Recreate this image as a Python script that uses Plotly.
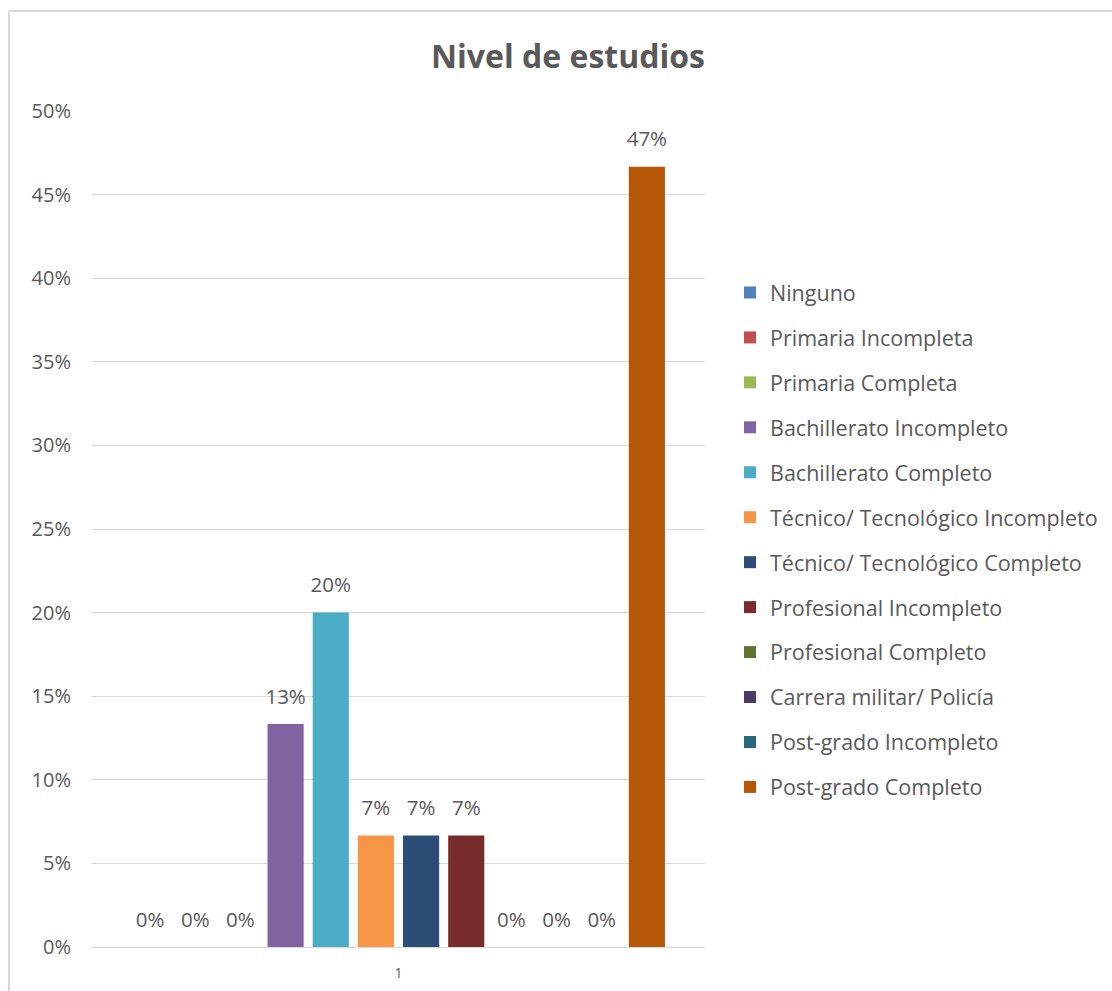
import plotly.graph_objects as go

categories = ["1"]
series_names = [
    "Ninguno", "Primaria Incompleta", "Primaria Completa", "Bachillerato Incompleto",
    "Bachillerato Completo", "Técnico/ Tecnológico Incompleto", "Técnico/ Tecnológico Completo",
    "Profesional Incompleto", "Profesional Completo", "Carrera militar/ Policía",
    "Post-grado Incompleto", "Post-grado Completo",
]
series_values = [0.0, 0.0, 0.0, 0.1333, 0.2, 0.0667, 0.0667, 0.0667, 0.0, 0.0, 0.0, 0.4667]
series_colors = [
    "#4F81BD", "#C0504D", "#9BBB59", "#8064A2", "#4BACC6", "#F79646",
    "#2C4D75", "#772C2A", "#5F7530", "#4D3B62", "#276A7C", "#B65708",
]
y_tick_vals = [0, 0.05, 0.10, 0.15, 0.20, 0.25, 0.30, 0.35, 0.40, 0.45, 0.50]

FONT = "Open Sans, Lato, sans-serif"
GREY = "#595959"
LABEL_PAD = 0.0068  # visual gap between bar end and its data label (axis units)

W, H = 1112, 991
L, R, T, B = 92, 407, 111, 44
pw, ph = W - L - R, H - T - B

def px_x(x):
    return (x - L) / pw

def px_y(y):
    return (H - B - y) / ph

fig = go.Figure()
for i, (name, val, col) in enumerate(zip(series_names, series_values, series_colors)):
    fig.add_trace(go.Bar(
        x=categories, y=[val], name=name, legendgroup=name, offsetgroup=str(i),
        marker=dict(color=col, line=dict(width=0)),
    ))
    # transparent carrier for the data label, sitting just above the bar
    fig.add_trace(go.Bar(
        x=categories, y=[LABEL_PAD], base=[val], name=name, legendgroup=name,
        offsetgroup=str(i), showlegend=False, hoverinfo="skip",
        marker=dict(color="rgba(0,0,0,0)", line=dict(width=0)),
        customdata=[val], texttemplate="%{customdata:.0%}", textposition="outside",
        textfont=dict(family=FONT, size=20.5, color=GREY),
        constraintext="none", cliponaxis=False,
    ))

fig.update_layout(
    width=W, height=H,
    margin=dict(l=L, r=R, t=T, b=B, autoexpand=False),
    paper_bgcolor="white", plot_bgcolor="white",
    barmode="group", bargap=0.116, bargroupgap=0.2,
    title=dict(text="<b>Nivel de estudios</b>", x=568 / W, xanchor="center",
               y=1 - 57 / H, yanchor="middle",
               font=dict(family=FONT, size=32, color=GREY)),
    font=dict(family=FONT, color=GREY),
    showlegend=True,
    legend=dict(x=px_x(730), xanchor="left", y=px_y(540), yanchor="middle",
                font=dict(family=FONT, size=21.5, color=GREY),
                tracegroupgap=14, traceorder="grouped",
                bgcolor="rgba(0,0,0,0)"),
    xaxis=dict(showgrid=False, showline=False, zeroline=False, automargin=False,
               tickfont=dict(family=FONT, size=14, color=GREY), ticks="",
               ticklabelstandoff=16),
    yaxis=dict(range=[0, 0.5], tickvals=y_tick_vals, tickformat=".0%",
               showgrid=True, gridcolor="#D9D9D9", gridwidth=1,
               zeroline=True, zerolinecolor="#D9D9D9", zerolinewidth=1,
               showline=False, ticks="", automargin=False,
               tickfont=dict(family=FONT, size=20, color=GREY),
               ticklabelstandoff=20),
    shapes=[
        dict(type="line", xref="paper", yref="paper",
             x0=px_x(9), x1=px_x(W + 5), y0=px_y(11), y1=px_y(11),
             line=dict(color="#D9D9D9", width=2)),
        dict(type="line", xref="paper", yref="paper",
             x0=px_x(9), x1=px_x(9), y0=px_y(11), y1=px_y(H + 5),
             line=dict(color="#D9D9D9", width=2)),
    ],
)

fig.write_html("out.html")
